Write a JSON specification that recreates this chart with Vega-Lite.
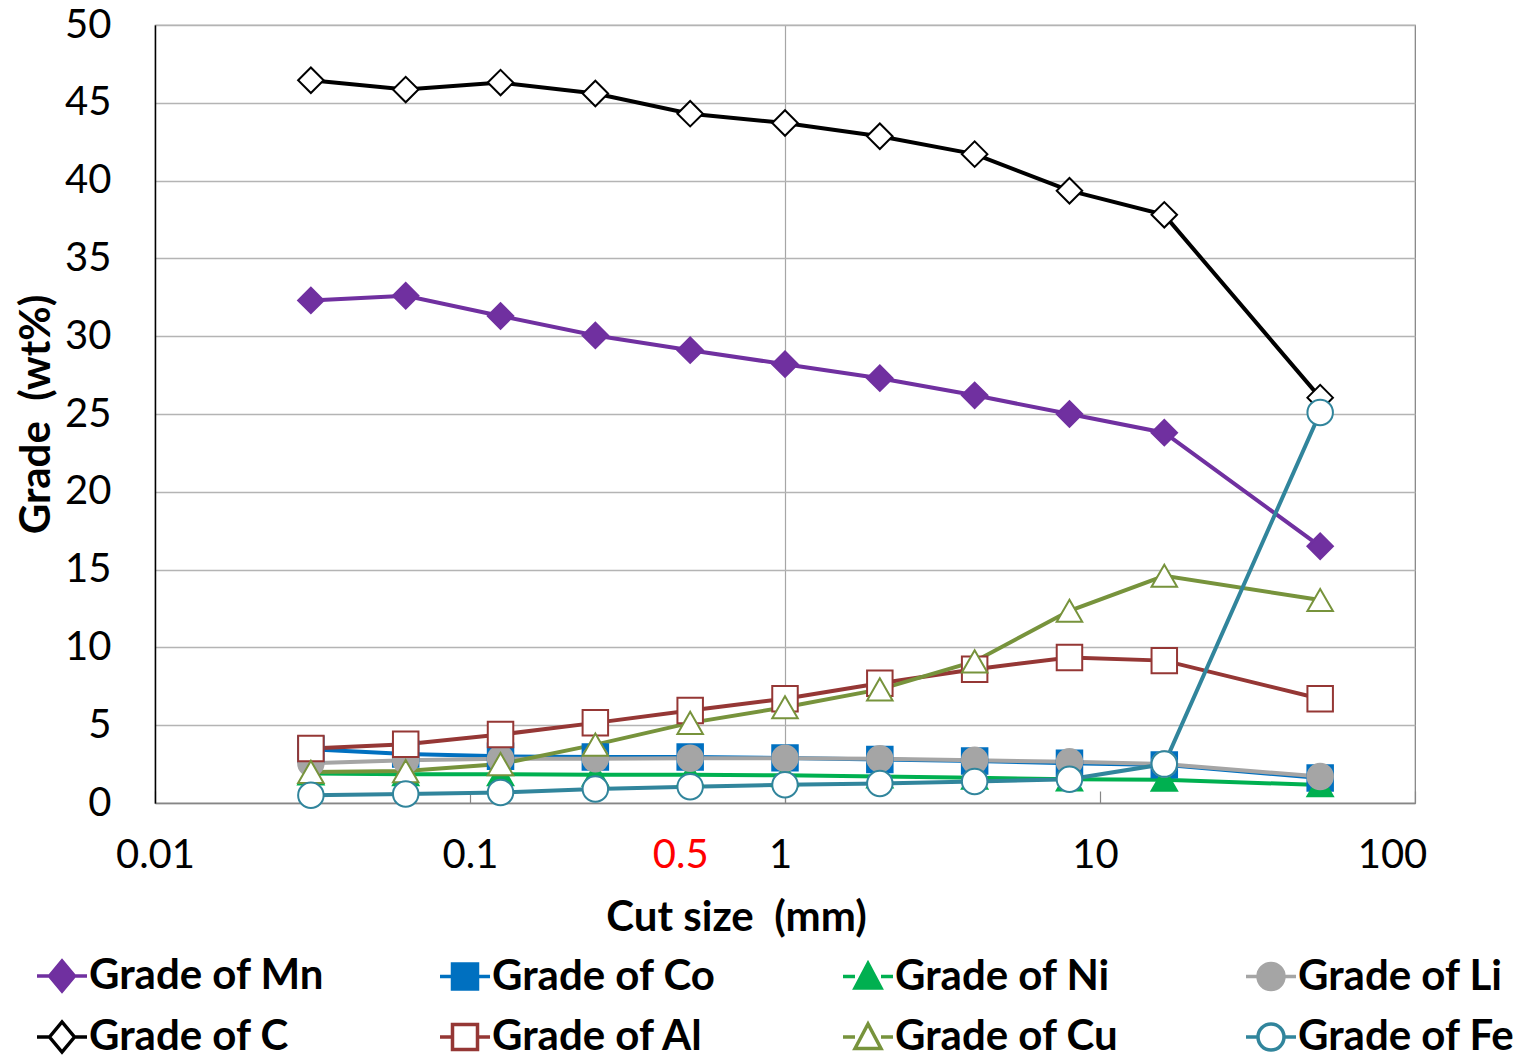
{
  "$schema": "https://vega.github.io/schema/vega-lite/v6.json",
  "width": 1260,
  "height": 778,
  "autosize": "none",
  "padding": {"left": 155, "top": 25, "right": 107, "bottom": 257},
  "background": "white",
  "config": {
    "view": {"stroke": "#7f7f7f", "strokeWidth": 1.2},
    "font": "Lato"
  },
  "data": {
    "values": [
      {"s": "Grade of Mn", "x": 0.03125, "v": 32.3}, {"s": "Grade of Mn", "x": 0.0625, "v": 32.6}, {"s": "Grade of Mn", "x": 0.125, "v": 31.3}, {"s": "Grade of Mn", "x": 0.25, "v": 30.05}, {"s": "Grade of Mn", "x": 0.5, "v": 29.1}, {"s": "Grade of Mn", "x": 1, "v": 28.2}, {"s": "Grade of Mn", "x": 2, "v": 27.3}, {"s": "Grade of Mn", "x": 4, "v": 26.2}, {"s": "Grade of Mn", "x": 8, "v": 25.0}, {"s": "Grade of Mn", "x": 16, "v": 23.8}, {"s": "Grade of Mn", "x": 50, "v": 16.5},
      {"s": "Grade of Co", "x": 0.03125, "v": 3.45}, {"s": "Grade of Co", "x": 0.0625, "v": 3.15}, {"s": "Grade of Co", "x": 0.125, "v": 3.0}, {"s": "Grade of Co", "x": 0.25, "v": 2.95}, {"s": "Grade of Co", "x": 0.5, "v": 2.95}, {"s": "Grade of Co", "x": 1, "v": 2.9}, {"s": "Grade of Co", "x": 2, "v": 2.8}, {"s": "Grade of Co", "x": 4, "v": 2.7}, {"s": "Grade of Co", "x": 8, "v": 2.55}, {"s": "Grade of Co", "x": 16, "v": 2.45}, {"s": "Grade of Co", "x": 50, "v": 1.6},
      {"s": "Grade of Ni", "x": 0.03125, "v": 1.9}, {"s": "Grade of Ni", "x": 0.0625, "v": 1.85}, {"s": "Grade of Ni", "x": 0.125, "v": 1.85}, {"s": "Grade of Ni", "x": 0.25, "v": 1.82}, {"s": "Grade of Ni", "x": 0.5, "v": 1.82}, {"s": "Grade of Ni", "x": 1, "v": 1.78}, {"s": "Grade of Ni", "x": 2, "v": 1.7}, {"s": "Grade of Ni", "x": 4, "v": 1.62}, {"s": "Grade of Ni", "x": 8, "v": 1.52}, {"s": "Grade of Ni", "x": 16, "v": 1.5}, {"s": "Grade of Ni", "x": 50, "v": 1.15},
      {"s": "Grade of Li", "x": 0.03125, "v": 2.55}, {"s": "Grade of Li", "x": 0.0625, "v": 2.75}, {"s": "Grade of Li", "x": 0.125, "v": 2.85}, {"s": "Grade of Li", "x": 0.25, "v": 2.85}, {"s": "Grade of Li", "x": 0.5, "v": 2.87}, {"s": "Grade of Li", "x": 1, "v": 2.87}, {"s": "Grade of Li", "x": 2, "v": 2.85}, {"s": "Grade of Li", "x": 4, "v": 2.75}, {"s": "Grade of Li", "x": 8, "v": 2.65}, {"s": "Grade of Li", "x": 16, "v": 2.5}, {"s": "Grade of Li", "x": 50, "v": 1.7},
      {"s": "Grade of C", "x": 0.03125, "v": 46.45}, {"s": "Grade of C", "x": 0.0625, "v": 45.85}, {"s": "Grade of C", "x": 0.125, "v": 46.3}, {"s": "Grade of C", "x": 0.25, "v": 45.6}, {"s": "Grade of C", "x": 0.5, "v": 44.3}, {"s": "Grade of C", "x": 1, "v": 43.7}, {"s": "Grade of C", "x": 2, "v": 42.85}, {"s": "Grade of C", "x": 4, "v": 41.7}, {"s": "Grade of C", "x": 8, "v": 39.35}, {"s": "Grade of C", "x": 16, "v": 37.8}, {"s": "Grade of C", "x": 50, "v": 26.05},
      {"s": "Grade of Al", "x": 0.03125, "v": 3.5}, {"s": "Grade of Al", "x": 0.0625, "v": 3.78}, {"s": "Grade of Al", "x": 0.125, "v": 4.4}, {"s": "Grade of Al", "x": 0.25, "v": 5.15}, {"s": "Grade of Al", "x": 0.5, "v": 5.95}, {"s": "Grade of Al", "x": 1, "v": 6.7}, {"s": "Grade of Al", "x": 2, "v": 7.7}, {"s": "Grade of Al", "x": 4, "v": 8.6}, {"s": "Grade of Al", "x": 8, "v": 9.35}, {"s": "Grade of Al", "x": 16, "v": 9.15}, {"s": "Grade of Al", "x": 50, "v": 6.7},
      {"s": "Grade of Cu", "x": 0.03125, "v": 2.0}, {"s": "Grade of Cu", "x": 0.0625, "v": 2.05}, {"s": "Grade of Cu", "x": 0.125, "v": 2.5}, {"s": "Grade of Cu", "x": 0.25, "v": 3.75}, {"s": "Grade of Cu", "x": 0.5, "v": 5.15}, {"s": "Grade of Cu", "x": 1, "v": 6.15}, {"s": "Grade of Cu", "x": 2, "v": 7.3}, {"s": "Grade of Cu", "x": 4, "v": 9.1}, {"s": "Grade of Cu", "x": 8, "v": 12.35}, {"s": "Grade of Cu", "x": 16, "v": 14.6}, {"s": "Grade of Cu", "x": 50, "v": 13.05},
      {"s": "Grade of Fe", "x": 0.03125, "v": 0.5}, {"s": "Grade of Fe", "x": 0.0625, "v": 0.58}, {"s": "Grade of Fe", "x": 0.125, "v": 0.68}, {"s": "Grade of Fe", "x": 0.25, "v": 0.9}, {"s": "Grade of Fe", "x": 0.5, "v": 1.05}, {"s": "Grade of Fe", "x": 1, "v": 1.17}, {"s": "Grade of Fe", "x": 2, "v": 1.25}, {"s": "Grade of Fe", "x": 4, "v": 1.38}, {"s": "Grade of Fe", "x": 8, "v": 1.53}, {"s": "Grade of Fe", "x": 16, "v": 2.5}, {"s": "Grade of Fe", "x": 50, "v": 25.1}
    ]
  },
  "encoding": {
    "x": {
      "field": "x", "type": "quantitative",
      "scale": {"type": "log", "domain": [0.01, 100], "nice": false},
      "axis": {
        "values": [0.01, 0.1, 0.5, 1, 10, 100],
        "format": "~g",
        "title": "Cut size\u00a0 (mm)",
        "titleFont": "Lato", "titleFontSize": 42, "titleFontWeight": "bold", "titleColor": "black",
        "titleX": 581, "titleY": 114, "titleAlign": "center", "titleBaseline": "middle", "titleAngle": 0,
        "labelFont": "Lato", "labelFontSize": 40,
        "labelColor": {"condition": {"test": "datum.value == 0.5", "value": "#FF0000"}, "value": "black"},
        "labelOffset": {"condition": [{"test": "datum.value == 100", "value": -23}, {"test": "datum.value == 0.5", "value": -10}, {"test": "datum.value == 1", "value": -5}, {"test": "datum.value == 10", "value": -5}], "value": 0},
        "labelFlush": false, "labelOverlap": false, "labelPadding": 64, "labelBaseline": "middle",
        "tickSize": -12, "tickColor": "#868686", "tickWidth": 1.2,
        "tickOpacity": {"condition": {"test": "datum.value == 0.5", "value": 0}, "value": 1},
        "domainColor": "#868686", "domainWidth": 1.5,
        "grid": true, "gridColor": "#a6a6a6", "gridWidth": 1.2,
        "gridOpacity": {"condition": {"test": "datum.value == 1", "value": 1}, "value": 0}
      }
    },
    "y": {
      "field": "v", "type": "quantitative",
      "scale": {"domain": [0, 50], "nice": false},
      "axis": {
        "values": [0, 5, 10, 15, 20, 25, 30, 35, 40, 45, 50],
        "title": "Grade\u00a0 (wt%)",
        "titleFont": "Lato", "titleFontSize": 42, "titleFontWeight": "bold", "titleColor": "black",
        "titleX": -119, "titleY": 389, "titleAngle": -90, "titleAlign": "center", "titleBaseline": "middle",
        "labelFont": "Lato", "labelFontSize": 40, "labelColor": "black",
        "labelPadding": 44, "labelFlush": false, "labelOverlap": false, "labelBaseline": "middle",
        "ticks": false,
        "domainColor": "black", "domainWidth": 1.5,
        "grid": true, "gridColor": "#b4b4b4", "gridWidth": 1.3
      }
    }
  },
  "layer": [
    {
      "mark": {"type": "line", "strokeWidth": 4},
      "encoding": {
        "stroke": {
          "field": "s", "type": "nominal", "legend": null,
          "scale": {
            "domain": ["Grade of Mn", "Grade of Co", "Grade of Ni", "Grade of Li", "Grade of C", "Grade of Al", "Grade of Cu", "Grade of Fe"],
            "range": ["#7030A0", "#0070C0", "#00B050", "#A5A5A5", "#000000", "#953735", "#77933C", "#31859C"]
          }
        }
      }
    },
    {
      "mark": {"type": "point", "opacity": 1, "strokeWidth": 2, "size": 650},
      "encoding": {
        "stroke": {
          "field": "s", "type": "nominal", "legend": null,
          "scale": {
            "domain": ["Grade of Mn", "Grade of Co", "Grade of Ni", "Grade of Li", "Grade of C", "Grade of Al", "Grade of Cu", "Grade of Fe"],
            "range": ["#7030A0", "#0070C0", "#00B050", "#A5A5A5", "#000000", "#953735", "#77933C", "#31859C"]
          }
        },
        "fill": {
          "field": "s", "type": "nominal", "legend": null,
          "scale": {
            "domain": ["Grade of Mn", "Grade of Co", "Grade of Ni", "Grade of Li", "Grade of C", "Grade of Al", "Grade of Cu", "Grade of Fe"],
            "range": ["#7030A0", "#0070C0", "#00B050", "#A5A5A5", "#FFFFFF", "#FFFFFF", "#FFFFFF", "#FFFFFF"]
          }
        },
        "shape": {
          "field": "s", "type": "nominal", "legend": null,
          "scale": {
            "domain": ["Grade of Mn", "Grade of Co", "Grade of Ni", "Grade of Li", "Grade of C", "Grade of Al", "Grade of Cu", "Grade of Fe"],
            "range": ["diamond", "square", "triangle-up", "circle", "diamond", "square", "triangle-up", "circle"]
          }
        }
      }
    },
    {
      "mark": {"type": "point", "opacity": 0, "strokeWidth": 3.5, "size": 100},
      "encoding": {
        "stroke": {
          "field": "s", "type": "nominal", "title": null,
          "scale": {
            "domain": ["Grade of Mn", "Grade of Co", "Grade of Ni", "Grade of Li", "Grade of C", "Grade of Al", "Grade of Cu", "Grade of Fe"],
            "range": ["#7030A0", "#0070C0", "#00B050", "#A5A5A5", "#000000", "#953735", "#77933C", "#31859C"]
          },
          "legend": {
            "orient": "none", "legendX": -120, "legendY": 924,
            "direction": "horizontal", "columns": 4, "gridAlign": "all",
            "columnPadding": 108, "rowPadding": 12,
            "symbolSize": 2500, "symbolStrokeWidth": 3.5, "symbolOpacity": 1,
            "labelFont": "Lato", "labelFontSize": 42, "labelFontWeight": "bold", "labelColor": "black",
            "labelLimit": 600, "labelOffset": 0
          }
        },
        "fill": {
          "field": "s", "type": "nominal", "title": null,
          "scale": {
            "domain": ["Grade of Mn", "Grade of Co", "Grade of Ni", "Grade of Li", "Grade of C", "Grade of Al", "Grade of Cu", "Grade of Fe"],
            "range": ["#7030A0", "#0070C0", "#00B050", "#A5A5A5", "#FFFFFF", "#FFFFFF", "#FFFFFF", "#FFFFFF"]
          },
          "legend": {
            "orient": "none", "legendX": -120, "legendY": 924,
            "direction": "horizontal", "columns": 4, "gridAlign": "all",
            "columnPadding": 108, "rowPadding": 12,
            "symbolSize": 2500, "symbolStrokeWidth": 3.5, "symbolOpacity": 1,
            "labelFont": "Lato", "labelFontSize": 42, "labelFontWeight": "bold", "labelColor": "black",
            "labelLimit": 600, "labelOffset": 0
          }
        },
        "shape": {
          "field": "s", "type": "nominal", "title": null,
          "scale": {
            "domain": ["Grade of Mn", "Grade of Co", "Grade of Ni", "Grade of Li", "Grade of C", "Grade of Al", "Grade of Cu", "Grade of Fe"],
            "range": [
              "M-1,0H-0.5M-0.5,0L0,-0.6L0.5,0L0,0.6ZM0.5,0H1",
              "M-1,0H-0.5M-0.5,-0.5H0.5V0.5H-0.5ZM0.5,0H1",
              "M-1,0H-0.52M-0.52,0.46L0,-0.52L0.52,0.46ZM0.52,0H1",
              "M-1,0H-0.52M-0.52,0A0.52,0.52 0 1,0 0.52,0A0.52,0.52 0 1,0 -0.52,0ZM0.52,0H1",
              "M-1,0H-0.5M-0.5,0L0,-0.6L0.5,0L0,0.6ZM0.5,0H1",
              "M-1,0H-0.5M-0.5,-0.5H0.5V0.5H-0.5ZM0.5,0H1",
              "M-1,0H-0.52M-0.52,0.46L0,-0.52L0.52,0.46ZM0.52,0H1",
              "M-1,0H-0.52M-0.52,0A0.52,0.52 0 1,0 0.52,0A0.52,0.52 0 1,0 -0.52,0ZM0.52,0H1"
            ]
          },
          "legend": {
            "orient": "none", "legendX": -120, "legendY": 924,
            "direction": "horizontal", "columns": 4, "gridAlign": "all",
            "columnPadding": 108, "rowPadding": 12,
            "symbolSize": 2500, "symbolStrokeWidth": 3.5, "symbolOpacity": 1,
            "labelFont": "Lato", "labelFontSize": 42, "labelFontWeight": "bold", "labelColor": "black",
            "labelLimit": 600, "labelOffset": 0
          }
        }
      }
    }
  ],
  "resolve": {"scale": {"shape": "independent", "stroke": "independent", "fill": "independent"}}
}
